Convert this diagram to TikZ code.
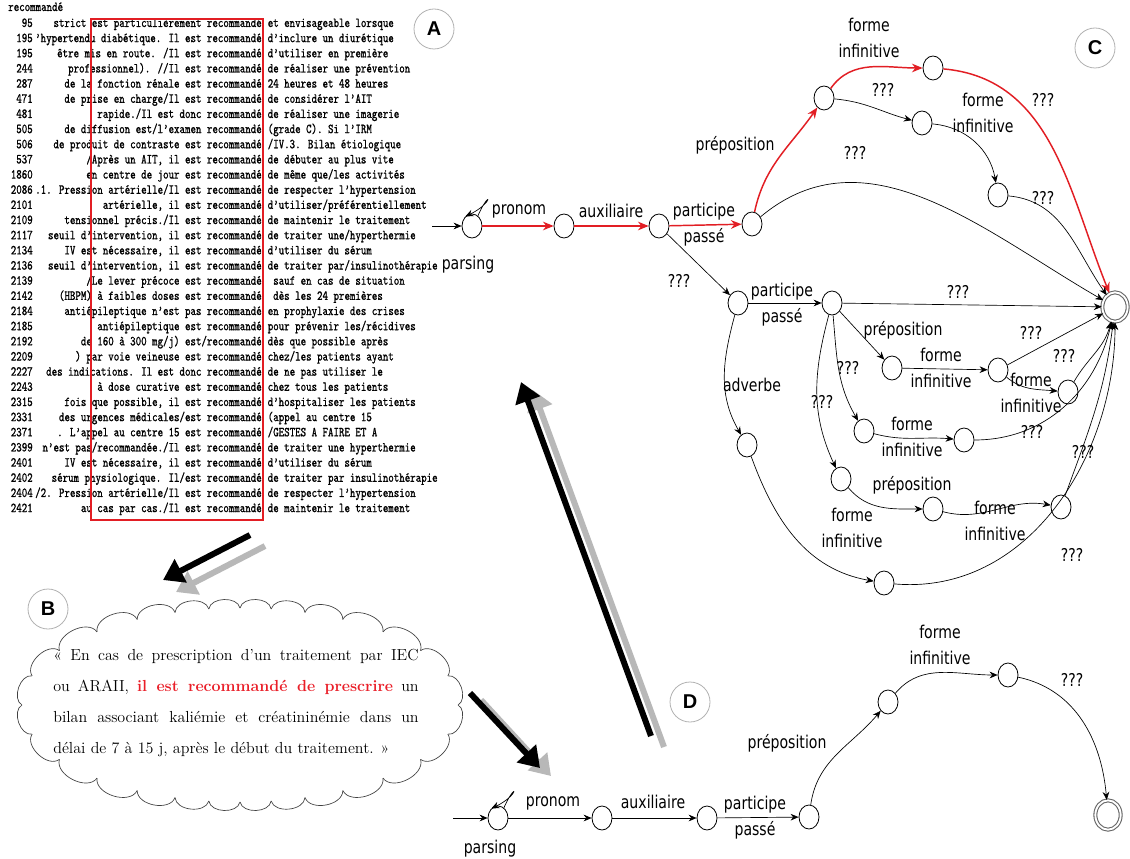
\documentclass[tikz,border=0pt]{standalone}
\usepackage{fontspec}
\usetikzlibrary{shapes.geometric,shapes.symbols,arrows.meta}
\newfontfamily\labfont[FakeStretch=0.8]{DejaVu Sans}
\newfontfamily\concfont[FakeStretch=0.76,FakeBold=0.9]{Latin Modern Mono}
\newfontfamily\tagfont{Liberation Sans}
\definecolor{gred}{RGB}{226,30,36}
\definecolor{cred}{RGB}{234,30,40}
\tikzset{
  st/.style={ellipse, draw, line width=0.6pt, minimum width=15pt, minimum height=18pt, inner sep=0pt},
  fin/.style={ellipse, draw=black!60, double=white, double distance=1.4pt, line width=0.8pt, minimum width=19pt, minimum height=22pt, inner sep=0pt},
  lab/.style={font={\labfont\fontsize{13.2}{19.5}\selectfont}, inner sep=0pt, align=center},
  ed/.style={-{Stealth[length=6pt,width=5pt]}, line width=0.5pt},
  redge/.style={-{Stealth[length=8pt,width=6.5pt]}, line width=1.1pt, draw=gred},
  tagc/.style={circle, draw=black!30, line width=0.6pt, minimum size=30pt, inner sep=0pt, font={\tagfont\bfseries\fontsize{15}{15}\selectfont}},
  conc/.style={font={\concfont\fontsize{10.3}{11}\selectfont}, inner sep=0pt},
  bigk/.style={line width=4.5pt, -{Triangle[length=15pt,width=19pt]}, black},
  bigg/.style={bigk, black!28},
  cloudline/.style={draw=black!75, line width=0.5pt},
}
\newcommand\kwic[4]{%
  \node[conc, anchor=base east] (kn#1) at (33,{-(27+15.16*#1)}) {#2};
  \node[conc, anchor=base east] (kl#1) at (262,{-(27+15.16*#1)}) {#3};
  \node[conc, anchor=base west] (kr#1) at (267.5,{-(27+15.16*#1)}) {#4};}
\begin{document}
\begin{tikzpicture}[x=0.75pt,y=0.75pt]
\fill[white] (0,0) rectangle (1130,-859);
\useasboundingbox (0,0) rectangle (1130,-859);

% ---------- concordance (A)
\node[conc, anchor=base west] (khead) at (8,-11) {recommandé};
\kwic{0}{95}{strict est particulièrement recommandé}{et envisageable lorsque}
\kwic{1}{195}{’hypertendu diabétique. Il est recommandé}{d’inclure un diurétique}
\kwic{2}{195}{être mis en route. /Il est recommandé}{d’utiliser en première}
\kwic{3}{244}{professionnel). //Il est recommandé}{de réaliser une prévention}
\kwic{4}{287}{de la fonction rénale est recommandé}{24 heures et 48 heures}
\kwic{5}{471}{de prise en charge/Il est recommandé}{de considérer l’AIT}
\kwic{6}{481}{rapide./Il est donc recommandé}{de réaliser une imagerie}
\kwic{7}{505}{de diffusion est/l’examen recommandé}{(grade C). Si l’IRM}
\kwic{8}{506}{de produit de contraste est recommandé}{/IV.3. Bilan étiologique}
\kwic{9}{537}{/Après un AIT, il est recommandé}{de débuter au plus vite}
\kwic{10}{1860}{en centre de jour est recommandé}{de même que/les activités}
\kwic{11}{2086}{.1. Pression artérielle/Il est recommandé}{de respecter l’hypertension}
\kwic{12}{2101}{artérielle, il est recommandé}{d’utiliser/préférentiellement}
\kwic{13}{2109}{tensionnel précis./Il est recommandé}{de maintenir le traitement}
\kwic{14}{2117}{seuil d’intervention, il est recommandé}{de traiter une/hyperthermie}
\kwic{15}{2134}{IV est nécessaire, il est recommandé}{d’utiliser du sérum}
\kwic{16}{2136}{seuil d’intervention, il est recommandé}{de traiter par/insulinothérapie}
\kwic{17}{2139}{/Le lever précoce est recommandé}{\ sauf en cas de situation}
\kwic{18}{2142}{(HBPM) à faibles doses est recommandé}{\ dès les 24 premières}
\kwic{19}{2184}{antiépileptique n’est pas recommandé}{en prophylaxie des crises}
\kwic{20}{2185}{antiépileptique est recommandé}{pour prévenir les/récidives}
\kwic{21}{2192}{de 160 à 300 mg/j) est/recommandé}{dès que possible après}
\kwic{22}{2209}{) par voie veineuse est recommandé}{chez/les patients ayant}
\kwic{23}{2227}{des indications. Il est donc recommandé}{de ne pas utiliser le}
\kwic{24}{2243}{à dose curative est recommandé}{chez tous les patients}
\kwic{25}{2315}{fois que possible, il est recommandé}{d’hospitaliser les patients}
\kwic{26}{2331}{des urgences médicales/est recommandé}{(appel au centre 15}
\kwic{27}{2371}{. L’appel au centre 15 est recommandé}{/GESTES A FAIRE ET A}
\kwic{28}{2399}{n’est pas/recommandée./Il est recommandé}{de traiter une hyperthermie}
\kwic{29}{2401}{IV est nécessaire, il est recommandé}{d’utiliser du sérum}
\kwic{30}{2402}{sérum physiologique. Il/est recommandé}{de traiter par insulinothérapie}
\kwic{31}{2404}{/2. Pression artérielle/Il est recommandé}{de respecter l’hypertension}
\kwic{32}{2421}{au cas par cas./Il est recommandé}{de maintenir le traitement}
\draw[gred, line width=1.6pt] (91,-19) rectangle (263,-520);

% ---------- tags
\node[tagc] (tA) at (434,-29) {A};
\node[tagc] (tB) at (48,-609) {B};
\node[tagc] (tC) at (1095,-48) {C};
\node[tagc] (tD) at (690,-702) {D};

% ---------- cloud (B): puffs spaced evenly along an ellipse
\foreach \i in {0,...,27}{
  \pgfmathsetmacro\pa{360/28*\i + 10.7*sin(2*360/28*\i)}
  \pgfmathsetmacro\pb{360/28*(\i+1) + 10.7*sin(2*360/28*(\i+1))}
  \draw[cloudline] ({240+218*cos(\pa)},{-705+97*sin(\pa)}) to[bend right=80] ({240+218*cos(\pb)},{-705+97*sin(\pb)});
}
\node[align=left, inner sep=0pt, font={\fontsize{12}{23.25}\selectfont}] (quote) at (236,-703)
 {\makebox[274pt][s]{« En cas de prescription d'un traitement par IEC}\\
  \makebox[274pt][s]{ou ARAII, {\color{cred}\bfseries il est recommandé de prescrire} un}\\
  \makebox[274pt][s]{bilan associant kaliémie et créatininémie dans un}\\
  délai de 7 à 15 j, après le début du traitement. »};

% ---------- big arrows
\coordinate (ab1) at (250,-535); \coordinate (ab2) at (163,-580);
\coordinate (agb1) at (265,-546); \coordinate (agb2) at (176,-592);
\draw[bigg] (agb1) -- (agb2);
\draw[bigk] (ab1) -- (ab2);
\coordinate (bd1) at (470,-693); \coordinate (bd2) at (540,-768);
\coordinate (bgd1) at (481,-700); \coordinate (bgd2) at (551,-776);
\draw[bigg] (bgd1) -- (bgd2);
\draw[bigk] (bd1) -- (bd2);
\coordinate (dc1) at (651,-736); \coordinate (dc2) at (521,-382);
\coordinate (dgc1) at (664,-747); \coordinate (dgc2) at (533,-390);
\draw[bigg] (dgc1) -- (dgc2);
\draw[bigk] (dc1) -- (dc2);

% ---------- top graph (C)
\coordinate (in1) at (432,-226);
\node[st] (n1) at (472,-226) {};
\node[st] (n2) at (564,-226) {};
\node[st] (n3) at (659,-226) {};
\node[st] (n4) at (752,-224) {};
\node[st] (n5) at (824,-98) {};
\node[st] (n6) at (933,-68) {};
\node[st] (n7) at (922,-123) {};
\node[st] (n8) at (998,-195) {};
\node[fin] (F) at (1115,-307) {};
\node[st] (n9) at (738,-303) {};
\node[st] (n10) at (832,-303) {};
\node[st] (n11) at (892,-368) {};
\node[st] (n12) at (998,-370) {};
\node[st] (n13) at (1068,-392) {};
\node[st] (n14) at (864,-431) {};
\node[st] (n15) at (964,-440) {};
\node[st] (n16) at (841,-479) {};
\node[st] (n17) at (933,-509) {};
\node[st] (n18) at (1061,-507) {};
\node[st] (n19) at (747,-445) {};
\node[st] (n20) at (884,-583) {};

\node[lab] (lpars1) at (468,-265) {parsing};
\node[lab] (lpron) at (519,-211) {pronom};
\node[lab] (laux) at (611,-211) {auxiliaire};
\node[lab] (lpart) at (704,-225) {participe\\passé};
\node[lab] (lprep1) at (735,-145) {préposition};
\node[lab] (lfi1) at (869,-38) {forme\\infinitive};
\node[lab] (lq1) at (883,-90) {???};
\node[lab] (lfi2) at (983,-113) {forme\\infinitive};
\node[lab] (lq2) at (1043,-100) {???};
\node[lab] (lq3) at (855,-153) {???};
\node[lab] (lq4) at (1043,-198) {???};
\node[lab] (lq5) at (679,-281) {???};
\node[lab] (lpart2) at (782,-305) {participe\\passé};
\node[lab] (lq6) at (958,-292) {???};
\node[lab] (lprep2) at (903,-330) {préposition};
\node[lab] (lfi3) at (941,-368) {forme\\infinitive};
\node[lab] (lq7) at (1031,-333) {???};
\node[lab] (lq8) at (1064,-356) {???};
\node[lab] (lfi4) at (1031,-393) {forme\\infinitive};
\node[lab] (lq9) at (848,-368) {???};
\node[lab] (lq10) at (822,-402) {???};
\node[lab] (ladv) at (752,-385) {adverbe};
\node[lab] (lfi5) at (912,-437) {forme\\infinitive};
\node[lab] (lq11) at (1032,-432) {???};
\node[lab] (lq12) at (1083,-452) {???};
\node[lab] (lprep3) at (912,-485) {préposition};
\node[lab] (lfi6) at (852,-528) {forme\\infinitive};
\node[lab] (lfi7) at (995,-521) {forme\\infinitive};
\node[lab] (lq13) at (1072,-555) {???};

\draw[ed] (in1) -- (n1);
\draw[ed] (n1.60) .. controls +(13,29) and +(29,14) .. (n1.125);
\draw[redge] (n1) -- (n2);
\draw[redge] (n2) -- (n3);
\draw[redge] (n3) -- (n4);
\draw[redge] (n4) to[out=78,in=235] (n5);
\draw[redge] (n5) to[out=55,in=180] (n6);
\draw[redge] (n6) to[out=-5,in=112] (F);
\draw[ed] (n5) to[out=-5,in=165] (n7);
\draw[ed] (n7) to[out=-5,in=100] (n8);
\draw[ed] (n8) to[out=-5,in=125] (F);
\draw[ed] (n4) to[out=40,in=150] (F);
\draw[ed] (n3) -- (n9);
\draw[ed] (n9) -- (n10);
\draw[ed] (n10) -- (F);
\draw[ed] (n10) -- (n11);
\draw[ed] (n11) -- (n12);
\draw[ed] (n12) -- (F);
\draw[ed] (n12) to[out=-40,in=175] (n13);
\draw[ed] (n13) to[out=60,in=-105] (F);
\draw[ed] (n10) to[out=-85,in=120] (n14);
\draw[ed] (n14) to[out=-15,in=175] (n15);
\draw[ed] (n15) to[out=0,in=-103] (F);
\draw[ed] (n10) to[out=-105,in=115] (n16);
\draw[ed] (n16) to[out=-50,in=180] (n17);
\draw[ed] (n17) to[out=-15,in=170] (n18);
\draw[ed] (n18) to[out=70,in=-97] (F);
\draw[ed] (n9) to[out=-105,in=120] (n19);
\draw[ed] (n19) to[out=-70,in=170] (n20);
\draw[ed] (n20) to[out=-5,in=-90] (F);

% ---------- bottom graph (D)
\coordinate (in2) at (453,-818);
\node[st] (m1) at (498,-818) {};
\node[st] (m2) at (602,-818) {};
\node[st] (m3) at (707,-818) {};
\node[st] (m4) at (809,-817) {};
\node[st] (m5) at (888,-702) {};
\node[st] (m6) at (1008,-675) {};
\node[fin] (mf) at (1108,-815) {};
\node[lab] (mlpars) at (490,-849) {parsing};
\node[lab] (mlpron) at (553,-803) {pronom};
\node[lab] (mlaux) at (653,-802) {auxiliaire};
\node[lab] (mlpart) at (755,-818) {participe\\passé};
\node[lab] (mlprep) at (787,-743) {préposition};
\node[lab] (mlfi) at (940,-645) {forme\\infinitive};
\node[lab] (mlq) at (1072,-680) {???};
\draw[ed] (in2) -- (m1);
\draw[ed] (m1.60) .. controls +(13,29) and +(29,14) .. (m1.125);
\draw[ed] (m1) -- (m2);
\draw[ed] (m2) -- (m3);
\draw[ed] (m3) -- (m4);
\draw[ed] (m4) to[out=82,in=230] (m5);
\draw[ed] (m5) to[out=50,in=180] (m6);
\draw[ed] (m6) to[out=-12,in=95] (mf);
\end{tikzpicture}
\end{document}
